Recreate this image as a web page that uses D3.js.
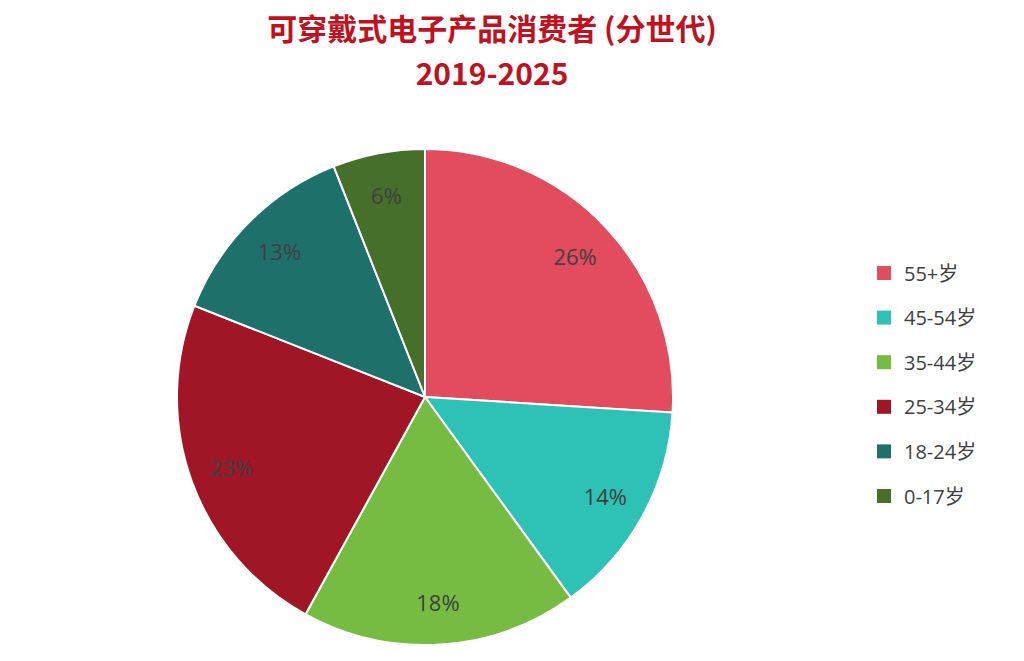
<!DOCTYPE html>
<html><head><meta charset="utf-8">
<script src="https://cdn.jsdelivr.net/npm/d3@7"></script>
<style>body{margin:0;background:#fff;font-family:"Open Sans","Noto Sans CJK SC",sans-serif}</style>
</head><body><svg id="c" width="1024" height="661"></svg>
<script>
const categories = ["55+岁","45-54岁","35-44岁","25-34岁","18-24岁","0-17岁"];
const values = [26,14,18,23,13,6];
const colors = ["#E34B5E","#2EC1B5","#76BC43","#A01626","#1E706B","#466F2A"];
const titleLines = ["可穿戴式电子产品消费者 (分世代)","2019-2025"];

const svg = d3.select("#c");
const cx=425, cy=397, R=248;
svg.selectAll("text.t").data(titleLines).join("text")
  .attr("x",492).attr("y",(d,i)=>40+i*45).attr("text-anchor","middle")
  .attr("fill","#C0111F").attr("font-weight","bold").attr("font-size",30)
  .attr("font-family","'Noto Sans CJK SC',sans-serif").text(d=>d);

const pie = d3.pie().sort(null).value(d=>d)(values);
const arc = d3.arc().innerRadius(0).outerRadius(R);
const g = svg.append("g").attr("transform",`translate(${cx},${cy})`);
g.selectAll("path").data(pie).join("path").attr("d",arc)
  .attr("fill",(d,i)=>colors[i]).attr("stroke","#fff").attr("stroke-width",2);
const la = d3.arc().innerRadius(R*0.83).outerRadius(R*0.83);
g.selectAll("text").data(pie).join("text")
  .attr("transform",d=>`translate(${la.centroid(d)})`)
  .attr("text-anchor","middle").attr("dominant-baseline","central")
  .attr("font-size",22).attr("fill","#404040").text(d=>d.data+"%");

const lg = svg.append("g");
categories.forEach((c,i)=>{
  const y=273+i*44.6;
  lg.append("rect").attr("x",877).attr("y",y-7).attr("width",14).attr("height",14).attr("fill",colors[i]);
  lg.append("text").attr("x",904).attr("y",y).attr("dominant-baseline","central")
    .attr("font-size",20).attr("fill","#404040").text(c);
});
</script></body></html>
